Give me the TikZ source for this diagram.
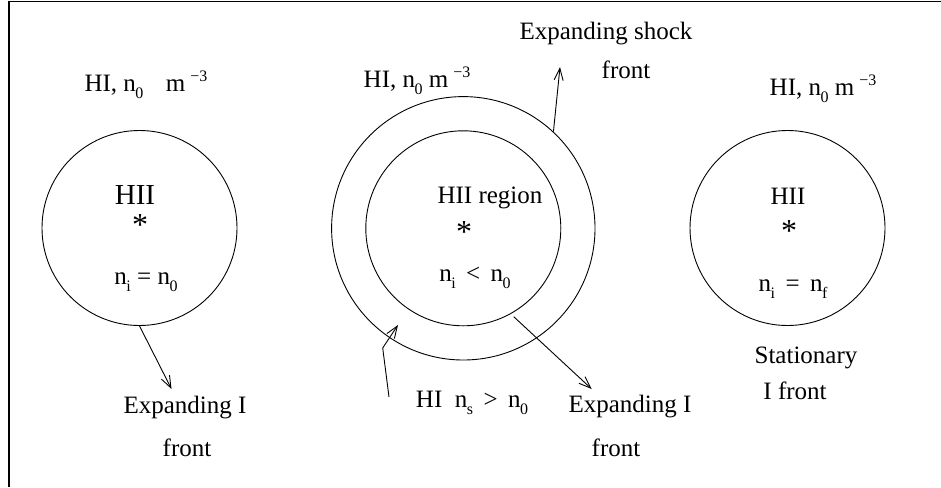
\documentclass[tikz,border=0pt]{standalone}
\usepackage{fontspec}
\setmainfont{Liberation Serif}
\usetikzlibrary{arrows.meta}
\newcommand{\dens}[1]{n\kern-0.02em\raisebox{-0.65ex}{\fontsize{8}{8}\selectfont #1}}
\newcommand{\perm}{m\kern0.2em\raisebox{0.85ex}{\fontsize{8}{8}\selectfont −3}}

\begin{document}
\begin{tikzpicture}[x=0.5pt, y=-0.5pt,
    ring/.style={circle, draw, inner sep=0pt, line width=0.45pt},
    lbl/.style={font=\fontsize{12.5}{15}\selectfont, inner sep=0pt},
    big/.style={font=\fontsize{14.5}{17}\selectfont, inner sep=0pt},
    starlbl/.style={font=\fontsize{16}{18}\selectfont, inner sep=0pt, anchor=north},
    arr/.style={-{Straight Barb[length=6pt,width=4.5pt]}, line width=0.45pt}]

    \useasboundingbox (0,0) rectangle (941,487);
    \draw[line width=0.7pt] (9,487) -- (9,1.5) -- (941,1.5);

    % left: expanding I front
    \node[ring, minimum size=97.5pt] (c1) at (139.5,228) {};
    \node[lbl] (hi1) at (146,85) {HI, \dens{0}\hspace{0.9em}\perm};
    \node[big] (hii1) at (135,195) {HII};
    \node[starlbl] (st1) at (140,214) {*};
    \node[lbl] (ni1) at (146,282) {\dens{i} = \dens{0}};
    \node[lbl] (ex1) at (185,408) {Expanding I};
    \node[lbl] (fr1) at (187,448) {front};
    \coordinate (t1) at (171.5,389);
    \draw[arr] (c1.south) -- (t1);

    % middle: shock and I front
    \node[ring, minimum size=131.7pt] (c2o) at (463.3,228.3) {};
    \node[ring, minimum size=97.5pt] (c2i) at (463.3,228.3) {};
    \node[lbl] (hi2) at (417,81) {HI, \dens{0} \perm};
    \node[lbl] (sh) at (606,34) {Expanding shock};
    \node[lbl] (fr2) at (626,70) {front};
    \node[lbl] (hii2) at (490,198) {HII region};
    \node[starlbl] (st2) at (464,221) {*};
    \node[lbl] (ni2) at (475,278) {\dens{i} \,<\, \dens{0}};
    \node[lbl] (ex2) at (630,407) {Expanding I};
    \node[lbl] (fr3) at (616,448) {front};
    \node[lbl] (hs) at (472,403) {HI\hspace{0.5em}\dens{s} \,>\, \dens{0}};
    \coordinate (t2) at (560,67);
    \coordinate (t3) at (591.7,389);
    \coordinate (s4) at (389,397);
    \coordinate (b4) at (382.7,348);
    \coordinate (t4) at (398,325);
    \draw[arr] (c2o.47.5) -- (t2);
    \draw[arr, shorten <=2pt] (c2i.-61.6) -- (t3);
    \draw[arr] (s4) -- (b4) -- (t4);

    % right: stationary I front
    \node[ring, minimum size=97.5pt] (c3) at (787.5,228) {};
    \node[lbl] (hi3) at (823,89) {HI, \dens{0} \perm};
    \node[lbl] (hii3) at (788,196) {HII};
    \node[starlbl] (st3) at (789,220) {*};
    \node[lbl] (ni3) at (793,289) {\dens{i} \,=\, \dens{f}};
    \node[lbl] (sta) at (806,358) {Stationary};
    \node[lbl] (ifr) at (795,391) {I front};
\end{tikzpicture}
\end{document}
